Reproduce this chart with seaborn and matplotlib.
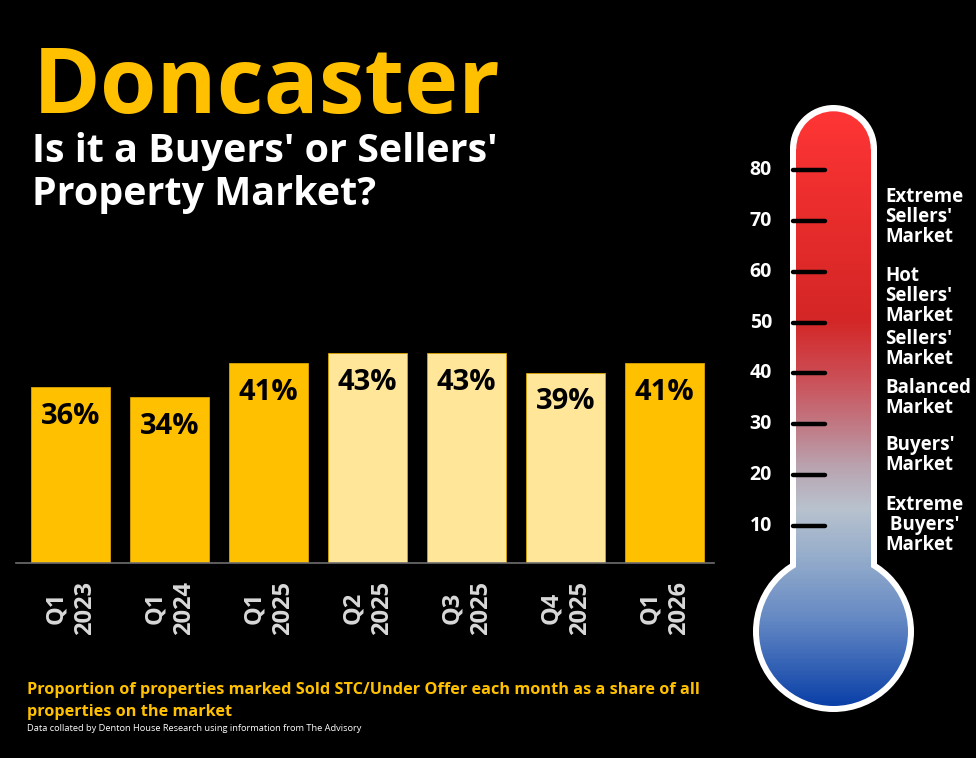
"""
Doncaster buyers' vs sellers' market chart with a thermometer gauge.
"""

import numpy as np
import pandas as pd
import matplotlib
matplotlib.use("Agg")
import matplotlib.pyplot as plt
from matplotlib.colors import LinearSegmentedColormap
from matplotlib.patches import Rectangle, Circle
import seaborn as sns

# Bar data
QUARTERS = ["Q1\n2023", "Q1\n2024", "Q1\n2025", "Q2\n2025", "Q3\n2025", "Q4\n2025", "Q1\n2026"]
SHARES = [36, 34, 41, 43, 43, 39, 41]
BAR_COLORS = ["#FFC000", "#FFC000", "#FFC000", "#FFE699", "#FFE699", "#FFE699", "#FFC000"]

# Thermometer scale
THERMO_TICKS = [10, 20, 30, 40, 50, 60, 70, 80]
ZONE_LABELS = ["Extreme\nSellers'\nMarket", "Hot\nSellers'\nMarket", "Sellers'\nMarket",
               "Balanced\nMarket", "Buyers'\nMarket", "Extreme\n Buyers'\nMarket"]
ZONE_LEVELS = [70.8, 55.2, 44.8, 35.2, 24.0, 10.2]

TITLE = "Doncaster"
SUBTITLE = ["Is it a Buyers' or Sellers'", "Property Market?"]
FOOTNOTE = ["Proportion of properties marked Sold STC/Under Offer each month as a share of all",
            "properties on the market"]
SOURCE = "Data collated by Denton House Research using information from The Advisory"

W, H = 976, 758
GOLD = "#FFC000"

sns.set_theme(style="white", rc={"figure.facecolor": "black", "axes.facecolor": "black",
                                 "savefig.facecolor": "black"})
plt.rcParams["font.family"] = ["Open Sans", "DejaVu Sans"]

fig = plt.figure(figsize=(W / 100, H / 100), dpi=100)


def px(x, y):
    return x / W, 1 - y / H


def fit_width(txt, target_px):
    r = fig.canvas.get_renderer()
    w = txt.get_window_extent(renderer=r).width
    txt.set_fontsize(txt.get_fontsize() * target_px / w)


# ---- titles ----
t = fig.text(*px(33, 113), TITLE, color=GOLD, fontsize=60, fontweight="bold", va="baseline")
fit_width(t, 468)
s1 = fig.text(*px(32, 162), SUBTITLE[0], color="white", fontsize=30, fontweight="bold", va="baseline")
fit_width(s1, 466)
fig.text(*px(32, 205), SUBTITLE[1], color="white", fontsize=s1.get_fontsize(),
         fontweight="bold", va="baseline")

# ---- bar chart ----
ax = fig.add_axes([16 / W, (H - 563) / H, 698 / W, 244 / H])
df = pd.DataFrame({"quarter": QUARTERS, "share": SHARES})
sns.barplot(data=df, x="quarter", y="share", hue="quarter", palette=BAR_COLORS,
            saturation=1, legend=False, width=0.8, ax=ax, edgecolor="#D9A400", linewidth=0.6)
ax.set_xlim(-0.55, 6.5)
ax.set_ylim(0, 50)
ax.set_xlabel("")
ax.set_ylabel("")
ax.set_yticks([])
for side in ["top", "left", "right"]:
    ax.spines[side].set_visible(False)
ax.spines["bottom"].set_color("#6E6E6E")
ax.spines["bottom"].set_linewidth(1.2)
ax.tick_params(axis="x", length=0, pad=13, labelcolor="#D9D9D9")
for lab in ax.get_xticklabels():
    lab.set_rotation(90)
    lab.set_fontsize(17)
    lab.set_fontweight("bold")
    lab.set_linespacing(1.25)

for i, v in enumerate(SHARES):
    ax.annotate(f"{v}%", xy=(i, v), xytext=(0, -10.5), textcoords="offset points",
                ha="center", va="top", fontsize=21, fontweight="bold", color="black")

# ---- footnotes ----
f1 = fig.text(*px(27, 694), FOOTNOTE[0], color=GOLD, fontsize=12, fontweight="bold", va="baseline")
fit_width(f1, 668)
fig.text(*px(27, 716), FOOTNOTE[1], color=GOLD, fontsize=f1.get_fontsize(),
         fontweight="bold", va="baseline")
s = fig.text(*px(27, 731), SOURCE, color="white", fontsize=6, va="baseline")
fit_width(s, 337)

# ---- thermometer ----
S = (526 - 170) / 70.0  # pixels per scale unit
tax = fig.add_axes([700 / W, (H - 730) / H, 276 / W, 640 / H])
XLIM = ((700 - 833.5) / S, (976 - 833.5) / S)
YLIM = (80 - (730 - 170) / S, 80 + (170 - 90) / S)
tax.axis("off")

outer_hw, inner_hw = 43.5 / S, 37.2 / S
cap_y = 80 + (170 - 105) / S - outer_hw
bulb_y = 80 - (631.5 - 170) / S
bulb_outer, bulb_inner = 80.5 / S, 74.5 / S

for patch in [Rectangle((-outer_hw, bulb_y), 2 * outer_hw, cap_y - bulb_y),
              Circle((0, cap_y), outer_hw), Circle((0, bulb_y), bulb_outer)]:
    patch.set_facecolor("white")
    patch.set_edgecolor("none")
    patch.set_zorder(1)
    tax.add_patch(patch)

stops = [(-25.6, "#0A40A8"), (-8.5, "#6589C4"), (3.3, "#94ACCB"), (13.1, "#B8C2CE"),
         (21.0, "#B9A6B2"), (28.9, "#C07D88"), (38.7, "#CB5058"), (50.5, "#D42626"),
         (70.2, "#E82C2C"), (92.0, "#FF3535")]
lo, hi = stops[0][0], stops[-1][0]
cmap = LinearSegmentedColormap.from_list(
    "thermo", [((v - lo) / (hi - lo), c) for v, c in stops])
grad = np.linspace(0, 1, 400).reshape(-1, 1)

for clip in [Rectangle((-inner_hw, bulb_y), 2 * inner_hw, cap_y - bulb_y),
             Circle((0, cap_y), inner_hw), Circle((0, bulb_y), bulb_inner)]:
    clip.set_transform(tax.transData)
    im = tax.imshow(grad, extent=(-20, 20, lo, hi), origin="lower", cmap=cmap,
                    aspect="auto", interpolation="bilinear", zorder=2)
    im.set_clip_path(clip)

tax.set_xlim(*XLIM)
tax.set_ylim(*YLIM)

lc = tax.hlines(THERMO_TICKS, (793 - 833.5) / S, (825 - 833.5) / S, color="black", lw=3.2, zorder=3)
lc.set_capstyle("round")
for v in THERMO_TICKS:
    tax.text((772 - 833.5) / S, v, str(v), ha="right", va="center", color="white",
             fontsize=14, fontweight="bold")
for lvl, lab in zip(ZONE_LEVELS, ZONE_LABELS):
    tax.text((885 - 833.5) / S, lvl, lab, ha="left", va="center", color="white",
             fontsize=13.5, fontweight="bold", linespacing=1.0)

fig.savefig("out.png", dpi=100, facecolor="black")
